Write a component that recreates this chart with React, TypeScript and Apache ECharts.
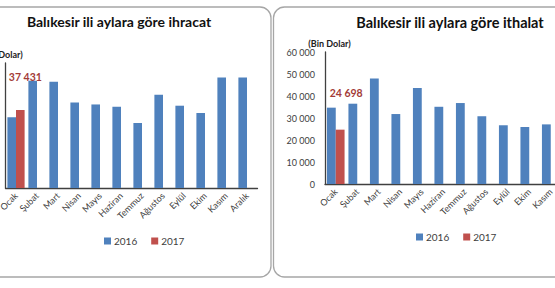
import React, { useEffect, useRef } from "react";
import * as echarts from "echarts";

const categories = ["Ocak", "Şubat", "Mart", "Nisan", "Mayıs", "Haziran", "Temmuz", "Ağustos", "Eylül", "Ekim", "Kasım", "Aralık"];
const export2016 = [34000, 51500, 51000, 41100, 40100, 39000, 31200, 44800, 39500, 36000, 53100, 53100];
const export2017 = [37431, null, null, null, null, null, null, null, null, null, null, null];
const import2016 = [34700, 36500, 48000, 31800, 43600, 35100, 36800, 30800, 26700, 25900, 27100, 30000];
const import2017 = [24698, null, null, null, null, null, null, null, null, null, null, null];
const yMin = 0;
const yMax = 60000;
const yInterval = 10000;
const seriesNames = ["2016", "2017"];
const titles = ["Balıkesir ili aylara göre ihracat", "Balıkesir ili aylara göre ithalat"];
const unitLabel = "(Bin Dolar)";

const FONT = "Lato";
const BLUE = "#4F81BD";
const RED = "#C0504D";
const LABEL_RED = "#A33B38";

const fmt = (v: number) => String(v).replace(/\B(?=(\d{3})+(?!\d))/g, " ");

export default function App() {
  const ref = useRef<HTMLDivElement>(null);
  useEffect(() => {
    if (!ref.current) return;
    const chart = echarts.init(ref.current, undefined, { renderer: "svg" });
    const grids = [
      { left: 5.5, top: 63, width: 252, height: 125, containLabel: false, outerBoundsMode: "none" },
      { left: 325, top: 52, width: 258, height: 132, containLabel: false, outerBoundsMode: "none" },
    ];
    const xAxes = grids.map((_, i) => ({
      type: "category",
      gridIndex: i,
      data: categories,
      axisLine: { lineStyle: { color: "#404040", width: 1.3 } },
      axisTick: { show: false },
      axisLabel: { rotate: 45, margin: 6, fontSize: 9, color: "#404040", fontFamily: FONT, interval: 0 },
    }));
    const yAxes = grids.map((_, i) => ({
      type: "value",
      gridIndex: i,
      min: yMin,
      max: yMax,
      interval: yInterval,
      name: unitLabel,
      nameLocation: "end",
      nameGap: 4,
      nameTextStyle: {
        fontSize: 9,
        fontWeight: "bold",
        color: "#222",
        fontFamily: FONT,
        padding: i === 0 ? [0, 8, 0, 0] : [0, 0, 0, 9],
      },
      splitLine: { show: false },
      axisLine: { show: true, lineStyle: { color: "#404040", width: 1.3 } },
      axisTick: { show: false },
      axisLabel: {
        show: i === 1,
        margin: 10,
        fontSize: 9,
        color: "#404040",
        fontFamily: FONT,
        formatter: (v: number) => fmt(v),
      },
    }));
    const mkSeries = (name: string, data: (number | null)[], idx: number, color: string, labelOffset?: number[]) => ({
      type: "bar",
      name,
      xAxisIndex: idx,
      yAxisIndex: idx,
      data,
      barGap: "0%",
      barCategoryGap: "18%",
      itemStyle: { color },
      label: labelOffset
        ? {
            show: true,
            position: "top",
            offset: labelOffset,
            fontSize: 10.5,
            fontWeight: "bold",
            color: LABEL_RED,
            fontFamily: FONT,
            formatter: (p: any) => (p.value == null ? "" : fmt(p.value)),
          }
        : { show: false },
    });
    chart.setOption({
      animation: false,
      backgroundColor: "#fff",
      graphic: [
        {
          type: "rect",
          shape: { x: -20, y: 7, width: 291, height: 270, r: 11 },
          style: { fill: "none", stroke: "#a6a6a6", lineWidth: 1.3 },
          silent: true,
        },
        {
          type: "rect",
          shape: { x: 273.5, y: 7, width: 400, height: 270, r: 11 },
          style: { fill: "none", stroke: "#a6a6a6", lineWidth: 1.3 },
          silent: true,
        },
      ],
      title: [
        {
          text: titles[0],
          left: 114,
          top: 9,
          textAlign: "center",
          textStyle: { fontSize: 14, fontWeight: "bold", color: "#111", fontFamily: FONT },
        },
        {
          text: titles[1],
          left: 445,
          top: 10,
          textAlign: "center",
          textStyle: { fontSize: 14.5, fontWeight: "bold", color: "#111", fontFamily: FONT },
        },
      ],
      legend: [
        {
          data: seriesNames,
          left: 99,
          top: 231,
          itemWidth: 7,
          itemHeight: 7,
          itemGap: 14,
          icon: "rect",
          textStyle: { fontSize: 10, color: "#404040", fontFamily: FONT, padding: [0, 0, 0, -2] },
        },
        {
          data: seriesNames,
          left: 411,
          top: 227,
          itemWidth: 7,
          itemHeight: 7,
          itemGap: 14,
          icon: "rect",
          textStyle: { fontSize: 10, color: "#404040", fontFamily: FONT, padding: [0, 0, 0, -2] },
        },
      ],
      grid: grids,
      xAxis: xAxes,
      yAxis: yAxes,
      series: [
        mkSeries(seriesNames[0], export2016, 0, BLUE),
        mkSeries(seriesNames[1], export2017, 0, RED, [5, -23]),
        mkSeries(seriesNames[0], import2016, 1, BLUE),
        mkSeries(seriesNames[1], import2017, 1, RED, [6, -26]),
      ],
    } as any);
    return () => chart.dispose();
  }, []);
  return (
    <div style={{ position: "fixed", left: 0, top: 0, width: 555, height: 288, overflow: "hidden", background: "#fff" }}>
      <div ref={ref} style={{ width: 555, height: 288 }} />
    </div>
  );
}
